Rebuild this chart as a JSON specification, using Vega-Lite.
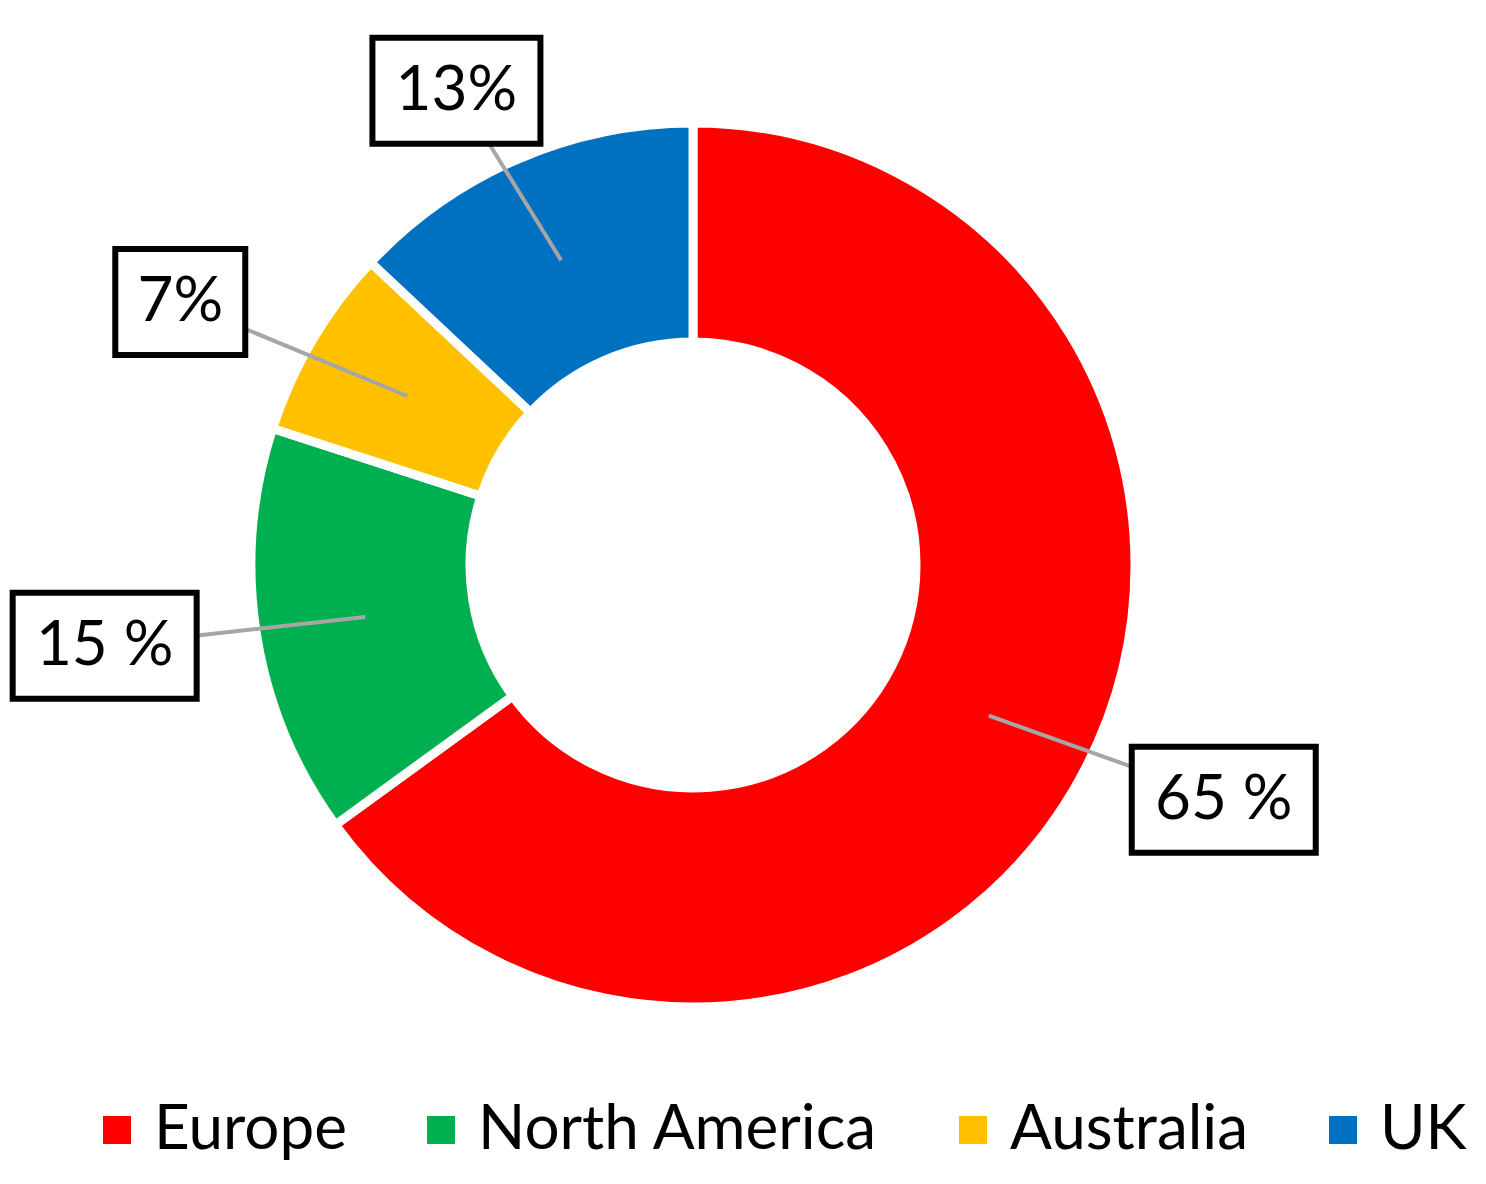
{
  "$schema": "https://vega.github.io/schema/vega-lite/v6.json",
  "width": 1386,
  "height": 1130,
  "autosize": {"type": "none"},
  "padding": {"left": 0, "top": 0, "right": 100, "bottom": 54},
  "background": "white",
  "config": {"view": {"stroke": null}, "font": "Lato"},
  "data": {
    "values": [
      {"region": "Europe", "share": 65, "label": "65 %"},
      {"region": "North America", "share": 15, "label": "15 %"},
      {"region": "Australia", "share": 7, "label": "7%"},
      {"region": "UK", "share": 13, "label": "13%"}
    ]
  },
  "transform": [
    {"window": [{"op": "row_number", "as": "idx"}, {"op": "sum", "field": "share", "as": "cum"}], "frame": [null, 0]},
    {"joinaggregate": [{"op": "sum", "field": "share", "as": "total"}]},
    {"calculate": "(datum.cum - datum.share / 2) / datum.total * 2 * PI", "as": "mid"},
    {"calculate": "0.758 * sin(datum.mid)", "as": "ax"},
    {"calculate": "0.758 * cos(datum.mid)", "as": "ay"},
    {"calculate": "1.36 * sin(datum.mid)", "as": "lx"},
    {"calculate": "1.18 * cos(datum.mid)", "as": "ly"},
    {"calculate": "(27 + 19 * length(replace(datum.label, ' ', '')) + (indexof(datum.label, ' ') >= 0 ? 8 : 0)) / 438", "as": "hw"},
    {"calculate": "datum.lx - datum.hw", "as": "bx1"},
    {"calculate": "datum.lx + datum.hw", "as": "bx2"},
    {"calculate": "datum.ly - 0.121", "as": "by1"},
    {"calculate": "datum.ly + 0.121", "as": "by2"}
  ],
  "layer": [
    {
      "mark": {"type": "arc", "outerRadius": 442, "innerRadius": 223, "stroke": "white", "strokeWidth": 9},
      "encoding": {
        "theta": {"field": "share", "type": "quantitative", "stack": true},
        "order": {"field": "idx", "type": "quantitative"},
        "color": {
          "field": "region",
          "type": "nominal",
          "scale": {
            "domain": ["Europe", "North America", "Australia", "UK"],
            "range": ["#FF0000", "#00B050", "#FFC000", "#0070C0"]
          },
          "legend": {
            "title": null,
            "orient": "none",
            "legendX": 86,
            "legendY": 1099,
            "direction": "horizontal",
            "symbolType": "square",
            "symbolSize": 784,
            "symbolStrokeWidth": 0,
            "labelFont": "Lato",
            "labelFontSize": 62,
            "labelColor": "black",
            "labelOffset": 6,
            "columnPadding": 63,
            "labelLimit": 0,
            "padding": 0
          }
        }
      }
    },
    {
      "mark": {"type": "rule", "color": "#A6A6A6", "strokeWidth": 4},
      "encoding": {
        "x": {"field": "ax", "type": "quantitative", "scale": {"domain": [-1.5822, 1.5822], "nice": false, "zero": false}, "axis": null},
        "y": {"field": "ay", "type": "quantitative", "scale": {"domain": [-1.29, 1.29], "nice": false, "zero": false}, "axis": null},
        "x2": {"field": "lx"},
        "y2": {"field": "ly"}
      }
    },
    {
      "mark": {"type": "rect", "fill": "white", "stroke": "black", "strokeWidth": 6},
      "encoding": {
        "x": {"field": "bx1", "type": "quantitative"},
        "x2": {"field": "bx2"},
        "y": {"field": "by1", "type": "quantitative"},
        "y2": {"field": "by2"}
      }
    },
    {
      "mark": {"type": "text", "font": "Lato", "fontSize": 62, "color": "black", "align": "center", "baseline": "middle"},
      "encoding": {
        "x": {"field": "lx", "type": "quantitative"},
        "y": {"field": "ly", "type": "quantitative"},
        "text": {"field": "label", "type": "nominal"}
      }
    }
  ]
}
